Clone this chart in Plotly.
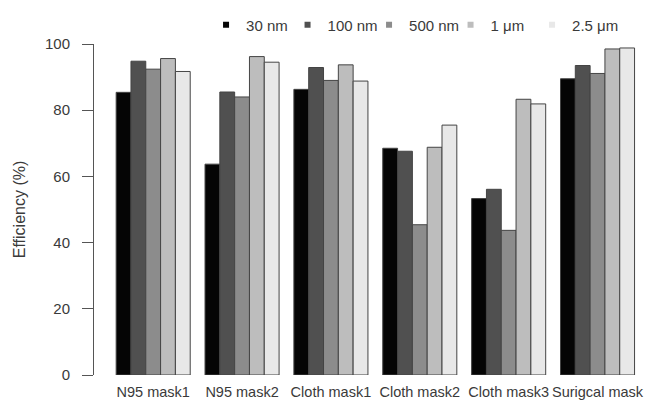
import plotly.graph_objects as go

categories = ["N95 mask1", "N95 mask2", "Cloth mask1", "Cloth mask2", "Cloth mask3", "Surigcal mask"]
series_names = ["30 nm", "100 nm", "500 nm", "1 \u03bcm", "2.5 \u03bcm"]
eff_30nm = [85.4, 63.7, 86.3, 68.5, 53.3, 89.5]
eff_100nm = [94.8, 85.5, 92.9, 67.6, 56.1, 93.5]
eff_500nm = [92.4, 84.0, 89.0, 45.4, 43.7, 91.1]
eff_1um = [95.6, 96.2, 93.7, 68.8, 83.3, 98.5]
eff_2_5um = [91.7, 94.5, 88.8, 75.5, 81.9, 98.8]
y_ticks = [0, 20, 40, 60, 80, 100]

colors = ["#050505", "#505050", "#8c8c8c", "#bdbdbd", "#e8e8e8"]
series_values = [eff_30nm, eff_100nm, eff_500nm, eff_1um, eff_2_5um]

FONT = "Liberation Sans, Arial, sans-serif"
TXT = "#3a3a3a"

fig = go.Figure()
for name, vals, col in zip(series_names, series_values, colors):
    fig.add_trace(go.Bar(
        x=categories, y=vals, name=name, showlegend=False, legendgroup=name,
        marker=dict(color=col, line=dict(color="#444444", width=1)),
    ))
for i, (name, col) in enumerate(zip(series_names, colors)):
    fig.add_trace(go.Scatter(
        x=[None], y=[None], mode="markers", name=name, legendgroup=name,
        legendwidth=(60 if i == len(series_names) - 1 else 36.5),
        marker=dict(symbol="square", size=6, color=col, line=dict(width=0)),
    ))

fig.update_layout(
    width=656, height=400,
    margin=dict(l=94, r=0, t=43.5, b=24.5, autoexpand=False),
    paper_bgcolor="white", plot_bgcolor="white",
    barmode="group", bargap=1/6, bargroupgap=0,
    font=dict(family=FONT, size=15, color=TXT),
    showlegend=True,
    legend=dict(
        orientation="h", xref="container", yref="container",
        x=0.3141, xanchor="left", y=0.9375, yanchor="middle",
        entrywidth=36.5, entrywidthmode="pixels",
        font=dict(family=FONT, size=15, color=TXT),
        bgcolor="rgba(0,0,0,0)", borderwidth=0,
        itemclick=False, itemdoubleclick=False,
    ),
    xaxis=dict(
        type="category", range=[-0.666, 5.658], automargin=False,
        showline=False, showgrid=False, zeroline=False,
        ticks="", ticklabelstandoff=6, tickangle=0,
        tickfont=dict(family=FONT, size=14.5, color=TXT),
    ),
    yaxis=dict(
        range=[0, 100], tickvals=y_ticks, automargin=False,
        showline=True, linecolor="#555555", linewidth=1,
        ticks="outside", ticklen=11, tickcolor="#555555", tickwidth=1,
        ticklabelstandoff=9,
        showgrid=False, zeroline=False,
        tickfont=dict(family=FONT, size=15, color=TXT),
        title=dict(text="Efficiency (%)", standoff=15,
                   font=dict(family=FONT, size=16, color=TXT)),
    ),
)

fig.write_html("out.html")
